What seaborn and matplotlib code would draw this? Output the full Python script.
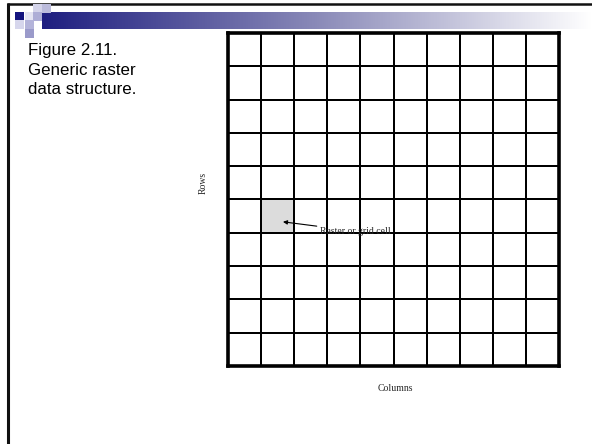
import numpy as np
import seaborn as sns
from matplotlib import pyplot as plt
from matplotlib.colors import ListedColormap, LinearSegmentedColormap
from matplotlib.patches import Rectangle

# grid description
n_rows = 10
n_cols = 10
shaded_row = 5
shaded_col = 1
caption = 'Figure 2.11.\nGeneric raster\ndata structure.'
cell_label = 'Raster or grid cell'
row_label = 'Rows'
col_label = 'Columns'

W, H = 592, 444

if __name__ == '__main__':
    sns.set_theme(style='white')
    plt.rcParams['font.family'] = ['Liberation Sans', 'DejaVu Sans']

    fig = plt.figure(figsize=(W / 100, H / 100), dpi=100)
    fig.patch.set_facecolor('white')

    # slide decoration in pixel coords
    bg = fig.add_axes([0, 0, 1, 1])
    bg.set_xlim(0, W)
    bg.set_ylim(H, 0)
    bg.axis('off')
    bg.plot([7, W], [4, 4], color='#111111', lw=1.8, solid_capstyle='butt')
    bg.plot([7.5, 7.5], [3, H], color='#111111', lw=2.2, solid_capstyle='butt')

    grad = np.linspace(0, 1, 256).reshape(1, -1)
    bar_cmap = LinearSegmentedColormap.from_list('bar', ['#1f1f80', '#8a8ab8', '#ffffff'])
    bg.imshow(grad, cmap=bar_cmap, aspect='auto', extent=[42, W, 29, 12], zorder=1)

    squares = [
        (15, 12, '#14147f'), (33, 4, '#d4d4ea'), (42, 4, '#bcbcdc'),
        (25, 12, '#e4e4f2'), (33, 12, '#aeaed6'),
        (15, 20.5, '#d6d6ec'), (25, 20.5, '#b4b4da'),
        (25, 29, '#9a9aca'),
    ]
    for x0, y0, c in squares:
        bg.add_patch(Rectangle((x0, y0), 8.8, 8.6, facecolor=c, edgecolor='none', zorder=2))

    bg.text(28, 43, caption, fontsize=12.2, va='top', ha='left',
            linespacing=1.38, color='black')

    # raster grid
    grid = np.zeros((n_rows, n_cols))
    grid[shaded_row, shaded_col] = 1

    ax = fig.add_axes([228 / W, (H - 366) / H, 331 / W, 333 / H])
    sns.heatmap(grid, ax=ax, cmap=ListedColormap(['white', '#dcdcdc']),
                cbar=False, linewidths=1.1, linecolor='black',
                xticklabels=False, yticklabels=False, square=False)
    for s in ax.spines.values():
        s.set_visible(True)
        s.set_linewidth(2.6)
        s.set_color('black')

    ax.annotate(cell_label, xy=(shaded_col + 0.66, shaded_row + 0.67),
                xytext=(shaded_col + 1.78, shaded_row + 0.95),
                fontsize=7, family='Liberation Serif', va='center', ha='left',
                arrowprops=dict(arrowstyle='-|>', color='black', lw=0.8,
                                shrinkA=0, shrinkB=0, mutation_scale=6))

    ax.text(-0.075, 0.55, row_label, transform=ax.transAxes, rotation=90,
            fontsize=7, family='Liberation Serif', ha='center', va='center')
    ax.text(0.505, -0.069, col_label, transform=ax.transAxes,
            fontsize=7, family='Liberation Serif', ha='center', va='center')

    fig.savefig('out.png', dpi=100)
